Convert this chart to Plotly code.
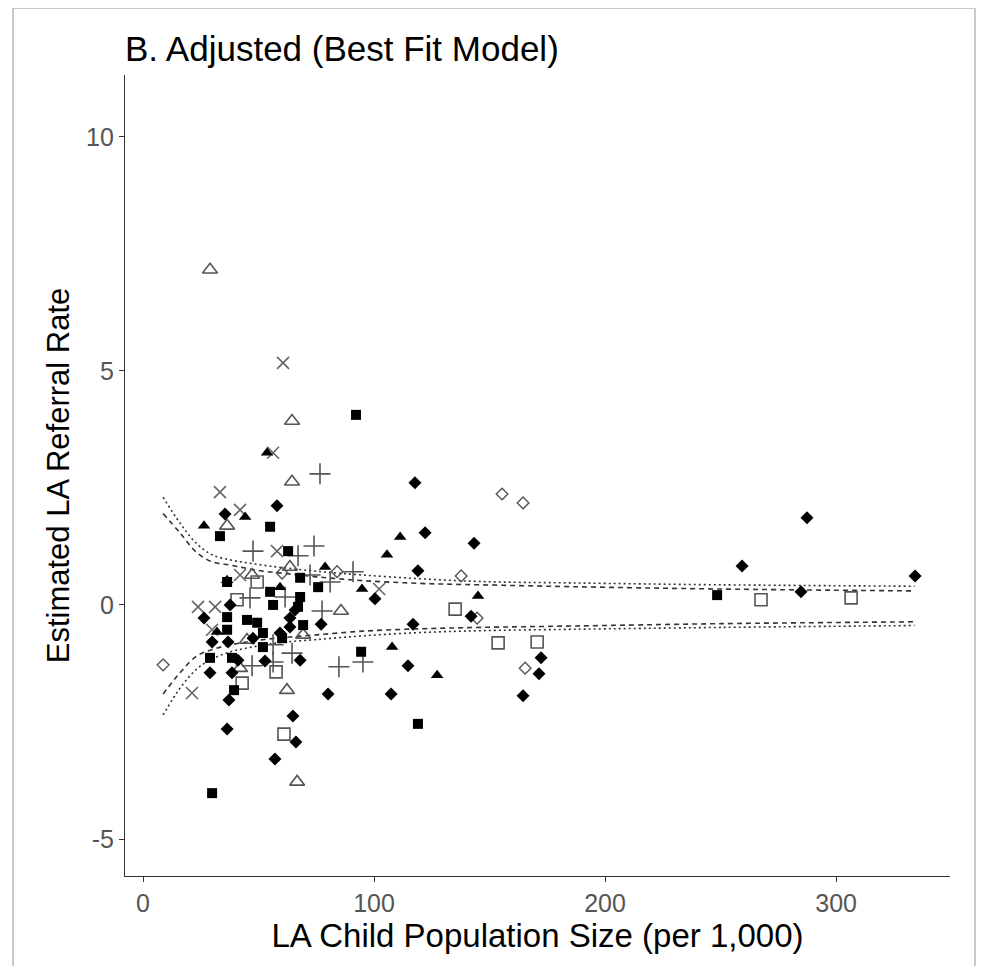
import plotly.graph_objects as go

# ---------------- data ----------------
# Filled diamonds
fd_x = [58.0, 35.5, 117.7, 122.1, 143.3, 119.0, 100.4, 142.0, 116.9, 77.1, 172.3, 171.4, 114.7, 68.0,
        80.1, 107.4, 164.5, 259.3, 287.4, 334.2, 284.8, 26.4, 29.0, 37.2, 38.5, 41.1, 52.8, 64.9,
        36.4, 66.2, 57.1, 37.7, 65.8, 36.8, 59.3, 63.6, 63.6, 47.6, 29.9]
fd_y = [2.12, 1.94, 2.61, 1.54, 1.32, 0.73, 0.13, -0.24, -0.41, -0.41, -1.13, -1.47, -1.30, -1.18,
        -1.90, -1.90, -1.94, 0.83, 1.86, 0.62, 0.28, -0.28, -1.45, -2.03, -1.45, -1.18, -1.20, -2.37,
        -2.65, -2.93, -3.29, 0.0, -0.11, -0.79, -0.60, -0.47, -0.28, -0.71, -0.79]
# Filled squares
fs_x = [92.2, 33.3, 55.0, 62.8, 94.4, 119.0, 248.5, 29.0, 39.4, 29.9, 68.0, 75.8, 55.0, 68.0,
        56.3, 36.4, 45.0, 49.4, 69.3, 36.4, 51.9, 51.9, 60.2, 36.4, 67.1, 38.5]
fs_y = [4.06, 1.47, 1.67, 1.15, -1.00, -2.54, 0.21, -1.13, -1.82, -4.02, 0.58, 0.38, 0.28, 0.17,
        0.0, -0.26, -0.32, -0.38, -0.43, -0.53, -0.60, -0.90, -0.71, 0.49, -0.04, -1.13]
# Filled triangles
ft_x = [53.7, 44.2, 26.4, 111.3, 105.6, 78.8, 94.8, 145.0, 107.8, 127.3, 36.4, 59.3, 32.0]
ft_y = [3.25, 1.88, 1.69, 1.45, 1.07, 0.81, 0.34, 0.19, -0.90, -1.50, 0.53, 0.38, -0.58]
# Open triangles
ot_x = [29.0, 64.5, 64.5, 36.4, 85.7, 62.3, 66.7, 47.2, 63.6, 45.0, 42.0, 69.3]
ot_y = [7.16, 3.93, 2.63, 1.69, -0.13, -1.82, -3.78, 0.64, 0.81, -0.75, -1.35, -0.64]
# Open squares
os_x = [135.1, 153.7, 170.6, 267.5, 306.5, 42.9, 57.6, 61.0, 40.7, 49.4]
os_y = [-0.09, -0.81, -0.79, 0.11, 0.15, -1.67, -1.43, -2.76, 0.11, 0.49]
# Open diamonds
od_x = [8.7, 155.4, 164.5, 137.7, 84.0, 144.6, 165.4, 60.2]
od_y = [-1.28, 2.37, 2.18, 0.62, 0.71, -0.28, -1.35, 0.68]
# Crosses (x)
xx_x = [60.6, 56.3, 33.3, 42.0, 58.0, 102.2, 21.2, 23.8, 31.2, 29.9, 42.0]
xx_y = [5.17, 3.25, 2.41, 2.03, 1.15, 0.34, -1.88, -0.04, -0.04, -0.53, 0.64]
# Plus signs
pl_x = [76.6, 47.6, 67.1, 74.0, 90.9, 77.5, 95.2, 84.8, 64.5, 47.2, 56.3, 81.0, 72.3, 46.3, 61.5, 56.3]
pl_y = [2.80, 1.15, 1.05, 1.26, 0.71, -0.13, -1.22, -1.32, -1.03, -1.30, -1.22, 0.49, 0.64, 0.15, 0.17, -0.85]

# Funnel limits
lim_x = [8.7, 16, 23, 30, 38, 45, 52, 60, 75, 95, 120, 146, 186, 250, 334]
up_dot = [2.30, 1.75, 1.32, 1.07, 0.96, 0.90, 0.85, 0.80, 0.72, 0.64, 0.56, 0.50, 0.47, 0.43, 0.40]
up_dash = [1.95, 1.54, 1.13, 0.92, 0.85, 0.78, 0.72, 0.68, 0.60, 0.52, 0.46, 0.43, 0.39, 0.34, 0.30]
lo_dash = [-1.90, -1.45, -1.10, -0.95, -0.85, -0.79, -0.74, -0.70, -0.64, -0.56, -0.51, -0.48, -0.45, -0.40, -0.36]
lo_dot = [-2.35, -1.78, -1.38, -1.15, -1.00, -0.92, -0.86, -0.80, -0.74, -0.66, -0.59, -0.55, -0.52, -0.48, -0.44]

x_ticks = [0, 100, 200, 300]
y_ticks = [-5, 0, 5, 10]
y_tick_labels = ["-5", "0", "5", "10"]

title_text = "B. Adjusted (Best Fit Model)"
x_title = "LA Child Population Size (per 1,000)"
y_title = "Estimated LA Referral Rate"

# ---------------- figure ----------------
fig = go.Figure()

line_col = "#333333"
fig.add_trace(go.Scatter(x=lim_x, y=up_dot, mode="lines", line=dict(color=line_col, width=1.6, dash="2px,3px", shape="spline"), hoverinfo="skip"))
fig.add_trace(go.Scatter(x=lim_x, y=lo_dot, mode="lines", line=dict(color=line_col, width=1.6, dash="2px,3px", shape="spline"), hoverinfo="skip"))
fig.add_trace(go.Scatter(x=lim_x, y=up_dash, mode="lines", line=dict(color=line_col, width=1.6, dash="5px,4px", shape="spline"), hoverinfo="skip"))
fig.add_trace(go.Scatter(x=lim_x, y=lo_dash, mode="lines", line=dict(color=line_col, width=1.6, dash="5px,4px", shape="spline"), hoverinfo="skip"))

grey = "#555555"
def pts(xs, ys, symbol, size, color, lw=0, lc=None):
    fig.add_trace(go.Scatter(x=xs, y=ys, mode="markers",
                             marker=dict(symbol=symbol, size=size, color=color,
                                         line=dict(width=lw, color=lc if lc else color))))

pts(ot_x, ot_y, "triangle-up-open", 13, grey, 1.6, grey)
pts(os_x, os_y, "square-open", 12, grey, 1.6, grey)
pts(od_x, od_y, "diamond-open", 9, grey, 1.4, grey)
pts(xx_x, xx_y, "x-thin", 12, "#666666", 1.6, "#666666")
pts(pl_x, pl_y, "cross-thin", 15, "#555555", 1.6, "#555555")
pts(fs_x, fs_y, "square", 10, "black")
pts(ft_x, ft_y, "triangle-up", 11, "black")
pts(fd_x, fd_y, "diamond", 10, "black")

font_fam = "Liberation Sans, Arial, sans-serif"

# page body adds an 8px offset; margins compensate so the plot lands at 125..950 x 75..876
fig.update_layout(
    width=985, height=966,
    margin=dict(l=117, r=43, t=67, b=98, autoexpand=False),
    paper_bgcolor="white", plot_bgcolor="white",
    showlegend=False,
    font=dict(family=font_fam, color="#000000"),
    title=dict(text=title_text, x=117/985, xanchor="left", y=1 - 41/966, yanchor="middle",
               font=dict(size=35, family=font_fam, color="#000000")),
)
fig.update_xaxes(range=[-7.8, 349.3], tickvals=x_ticks, showgrid=False, zeroline=False, automargin=False,
                 showline=True, linecolor="#333333", linewidth=1.2, ticks="outside", ticklen=5,
                 tickcolor="#333333", tickfont=dict(size=25, color="#555555", family=font_fam),
                 title=dict(text=x_title, font=dict(size=33, color="#000000", family=font_fam), standoff=6))
fig.update_yaxes(range=[-5.79, 11.32], tickvals=y_ticks, ticktext=y_tick_labels, showgrid=False,
                 zeroline=False, automargin=False,
                 showline=True, linecolor="#333333", linewidth=1.2, ticks="outside", ticklen=5,
                 tickcolor="#333333", tickfont=dict(size=25, color="#555555", family=font_fam),
                 title=dict(text=y_title, font=dict(size=31, color="#000000", family=font_fam), standoff=7))

# card frame around the figure
fig.add_shape(type="rect", xref="paper", yref="paper",
              x0=(13 - 125) / 825, x1=(975 - 125) / 825, y0=(876 - 990) / 801, y1=(876 - 8) / 801,
              line=dict(color="#c8c8c8", width=2), fillcolor="rgba(0,0,0,0)", layer="below")

fig.write_html("out.html")
